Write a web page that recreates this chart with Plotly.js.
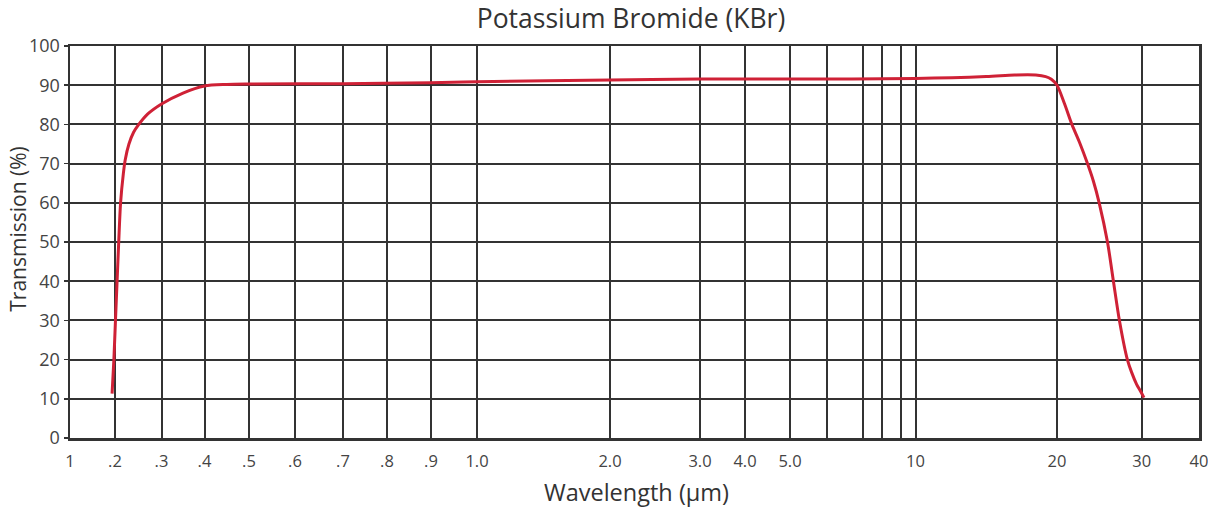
<!DOCTYPE html>
<html>
<head>
<meta charset="utf-8">
<script src="https://cdn.plot.ly/plotly-3.0.1.min.js"></script>
<style>
html,body{margin:0;padding:0;background:#fff;}
#chart{width:1208px;height:508px;}
</style>
</head>
<body>
<div id="chart"></div>
<script>
// Wavelength tick values (µm) and their labels as printed on the chart
var tickWavelengths = [0.1,0.2,0.3,0.4,0.5,0.6,0.7,0.8,0.9,1.0,2.0,3.0,4.0,5.0,6,7,8,9,10,20,30,40];
var tickLabels = ['1','.2','.3','.4','.5','.6','.7','.8','.9','1.0','2.0','3.0','4.0','5.0','','','','','10','20','30','40'];
// Non-uniform axis scale: position of each tick wavelength along the x axis
var axisScale = [0,45,91.5,134.5,179,225,273,317,361,407,540,630,675,720,757,793,812,831,845.5,987,1071.7,1129];

// Transmission curve
var wavelength = [0.1935,0.1975,0.201,0.2045,0.208,0.212,0.218,0.222,0.23,0.24,0.25,0.27,0.30,0.35,0.40,0.45,0.5,0.7,0.9,1.0,2.0,3.0,5.0,10,15,17,18.5,19.2,19.6,20.0,20.9,21.76,22.7,23.6,24.3,24.98,25.96,26.66,27.37,28.31,28.8,29.4,29.9,30.39];
var transmission = [11.3,20,30,40,50,60,67.5,71,75,78,79.8,82.6,85.2,88,89.8,90.2,90.3,90.4,90.6,90.9,91.3,91.6,91.6,91.7,92.2,92.6,92.6,92.2,91.5,90.0,85.2,80,75.2,70,65.5,60,50,40,30,20,16.8,13.7,11.8,10.3];

// map a wavelength onto the custom axis scale (piecewise linear between ticks)
function xmap(w){
  for (var i=0;i<tickWavelengths.length-1;i++){
    var a=tickWavelengths[i], b=tickWavelengths[i+1];
    if (w<=b || i===tickWavelengths.length-2){
      return axisScale[i]+(w-a)/(b-a)*(axisScale[i+1]-axisScale[i]);
    }
  }
}

var trace = {
  x: wavelength.map(xmap),
  y: transmission,
  mode: 'lines',
  line: {color:'#cf2136', width:3, shape:'spline', smoothing:0.8},
  hoverinfo:'skip'
};

var font = '"Open Sans", "DejaVu Sans", sans-serif';
var gridColor = '#333333';

var layout = {
  width:1208, height:508,
  margin:{l:70, r:9, t:46, b:69.5, pad:0},
  paper_bgcolor:'#ffffff', plot_bgcolor:'#ffffff',
  showlegend:false,
  title:{text:'Potassium Bromide (KBr)', font:{family:font, size:26.5, color:'#333'},
         x:631/1208, xanchor:'center', y:1-19/508, yanchor:'middle', yref:'container'},
  xaxis:{
    range:[axisScale[0], axisScale[axisScale.length-1]],
    tickmode:'array', tickvals:axisScale, ticktext:tickLabels,
    showgrid:true, gridcolor:gridColor, gridwidth:2,
    zeroline:false, showline:true, linecolor:gridColor, linewidth:2.5, mirror:true,
    ticks:'', ticklabelstandoff:7, ticklabeloverflow:'allow',
    tickfont:{family:font, size:16.5, color:'#444'},
    fixedrange:true
  },
  yaxis:{
    range:[0,100], tickmode:'linear', tick0:0, dtick:10,
    showgrid:true, gridcolor:gridColor, gridwidth:2,
    zeroline:false, showline:true, linecolor:gridColor, linewidth:2.5, mirror:true,
    ticks:'outside', ticklen:4, tickwidth:1.5, tickcolor:gridColor,
    tickfont:{family:font, size:18, color:'#444'},
    fixedrange:true
  },
  annotations:[
    {text:'Transmission (%)', xref:'paper', yref:'paper', x:0, xshift:-52, y:(438.5-230)/392.5,
     xanchor:'center', yanchor:'middle', textangle:-90, showarrow:false,
     font:{family:font, size:21, color:'#333'}},
    {text:'Wavelength (µm)', xref:'paper', yref:'paper', x:(636-70)/1129, y:-(493-438.5)/392.5,
     xanchor:'center', yanchor:'middle', showarrow:false,
     font:{family:font, size:23.5, color:'#333'}}
  ]
};

Plotly.newPlot('chart',[trace],layout,{displayModeBar:false, staticPlot:true});
</script>
</body>
</html>
